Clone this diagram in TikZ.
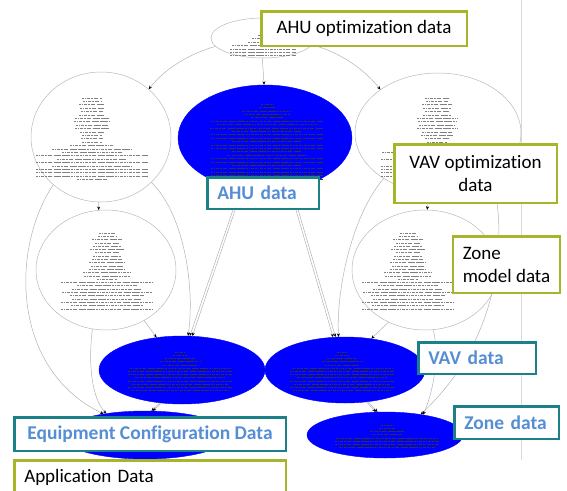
\documentclass[tikz,border=0pt]{standalone}
\usepackage{fontspec}
\setmainfont{Carlito}[Ligatures=NoCommon]
\usetikzlibrary{shapes.geometric,arrows.meta}
\definecolor{calloutgreen}{RGB}{166,181,42}
\definecolor{calloutteal}{RGB}{28,128,136}
\definecolor{labelblue}{RGB}{86,142,212}
\definecolor{graphblue}{RGB}{0,0,255}
% rows of tiny record text inside the graph nodes
\newcommand\glyphrows[5]{%
  \foreach \w [count=\i] in {#5} {\draw[#1] ({#2-\w/2},{#3+(\i-1)*#4}) -- ++(\w,0);}}
\begin{document}
\begin{tikzpicture}[x=1pt,y=-1pt,
  gnode/.style={ellipse, draw=black!28, line width=0.5pt, inner sep=0pt},
  bnode/.style={ellipse, draw=graphblue, fill=graphblue, inner sep=0pt},
  rowgray/.style={draw=black!50, line width=0.7pt, dash pattern=on 2.2pt off 0.5pt on 1.4pt off 0.5pt on 3pt off 1.2pt},
  rowblack/.style={draw=black!80, line width=0.55pt, dash pattern=on 2.2pt off 0.5pt on 1.4pt off 0.5pt on 3pt off 1.2pt},
  link/.style={draw=black!30, line width=0.5pt, -{Stealth[length=3.5pt,width=3pt,color=black]}},
  callout/.style={draw, fill=white, line width=2.5pt, inner xsep=10pt, inner ysep=0pt,
    font=\fontsize{19}{23}\selectfont},
  optbox/.style={callout, draw=calloutgreen},
  databox/.style={callout, draw=calloutteal, text=labelblue,
    font=\bfseries\fontsize{19.5}{23}\selectfont}]
\useasboundingbox (0,0) rectangle (567,490);
\clip (0,0) rectangle (567,490);

% slide divider
\draw[black!15, line width=0.6pt] (521,0) -- (521,460);

% graph nodes
\node[gnode, minimum width=104pt, minimum height=40pt] (top) at (263,38) {};
\node[gnode, minimum width=140pt, minimum height=130pt] (lbig) at (101,137) {};
\node[bnode, minimum width=174pt, minimum height=106pt] (ahu) at (265,138) {};
\node[gnode, minimum width=166pt, minimum height=120pt] (rbig) at (438,133) {};
\node[gnode, minimum width=140pt, minimum height=120pt] (lmid) at (106,270) {};
\node[gnode, minimum width=146pt, minimum height=120pt] (rmid) at (425,270) {};
\node[bnode, minimum width=166pt, minimum height=68pt] (equip) at (182,370) {};
\node[bnode, minimum width=160pt, minimum height=66pt] (vav) at (345,370) {};
\node[bnode, minimum width=156pt, minimum height=46pt] (zone) at (385,435) {};
\node[bnode, minimum width=170pt, minimum height=48pt] (app) at (145,435) {};

% record text
\glyphrows{rowgray}{263}{32}{3.4}{7,10,22,30,62,66,66,66}
\glyphrows{rowgray}{92}{98}{3.4}{20,18,26,24,22,26,34,36,32,34,24,20,22,20,44,80,60,112,70,112,80,112,112,112,30}
\glyphrows{rowblack}{267}{104}{3.4}{12,16,50,46,32,112,100,114,70,112,112,70,112,112,70,80,112,112,70,112,112,112,112}
\glyphrows{rowgray}{437}{98}{3.4}{24,22,30,28,24,28,40,38,36,40,30,32,24,20,22,44,110,70,112,80,112,112,112,112,30}
\glyphrows{rowgray}{107}{233}{3.3}{16,18,30,24,28,34,24,28,30,36,32,36,48,46,20,92,60,70,90,74,70,92,72,92}
\glyphrows{rowgray}{408}{233}{3.3}{16,18,30,24,28,34,24,28,30,36,32,36,48,46,20,92,60,70,90,74,70,92,72,92}
\glyphrows{rowblack}{180}{352}{3.2}{10,14,30,40,34,100,104,104,90,104,96,104,98}
\glyphrows{rowblack}{342}{352}{3.2}{10,14,30,40,34,100,104,104,90,104,96,104,98}
\glyphrows{rowblack}{387}{425}{3.2}{12,16,34,30,102,104,104,96}

% connectors
\draw[link] (top.190) .. controls (185,55) and (162,72) .. (lbig.45);
\draw[link] (top.268) -- (ahu.91);
\draw[link] (top.352) .. controls (340,52) and (365,70) .. (rbig.143);
\draw[link] (lbig.268) -- (lmid.97);
\draw[link] (lbig.225) .. controls (10,250) and (12,370) .. (app.153);
\draw[link] (lbig.318) .. controls (185,215) and (195,290) .. (equip.80);
\draw[link] (ahu.244) -- (equip.77);
\draw[link] (ahu.246) -- (equip.73);
\draw[link] (ahu.296) -- (vav.110);
\draw[link] (ahu.298) -- (vav.106);
\draw[link] (rbig.220) .. controls (352,215) and (336,290) .. (vav.101);
\draw[link] (rbig.262) -- (rmid.88);
\draw[link] (rbig.320) .. controls (508,240) and (500,340) .. (zone.30);
\draw[link] (rmid.235) -- (vav.50);
\draw[link] (rmid.278) .. controls (440,360) and (432,395) .. (zone.28);
\draw[link] (vav.304) -- (zone.112);
\draw[link] (vav.306) -- (zone.108);
\draw[link] (lmid.307) -- (equip.128);
\draw[link] (lmid.257) .. controls (88,365) and (92,398) .. (app.151);
\draw[link] (equip.236) -- (app.75);
\draw[link] (equip.238) -- (app.72);

% callouts
\node[optbox, minimum width=205.5pt, minimum height=34.5pt] (aopt) at (364,28.5) {AHU optimization data};
\node[optbox, minimum width=162.5pt, minimum height=58.5pt, align=center] (vopt) at (475.5,173.5) {VAV optimization\\data};
\node[optbox, minimum width=104.5pt, minimum height=56.5pt, align=left] (zmod) at (506.5,264.5) {Zone\\model data};
\node[optbox, minimum width=271.5pt, minimum height=34.5pt, text width=251.5pt, align=left] (appd) at (150,477.5) {Application Data};
\node[databox, minimum width=111.5pt, minimum height=31.5pt, text width=91.5pt, align=left] (ahud) at (263,193) {AHU data};
\node[databox, minimum width=117.5pt, minimum height=31.5pt, text width=97.5pt, align=left] (vavd) at (477,358) {VAV data};
\node[databox, minimum width=104.5pt, minimum height=32.5pt, text width=84.5pt, align=left] (zoned) at (506.5,422.5) {Zone data};
\node[databox, minimum width=271.5pt, minimum height=33.5pt, align=center] (eqd) at (150,434) {Equipment Configuration Data};
\end{tikzpicture}
\end{document}
